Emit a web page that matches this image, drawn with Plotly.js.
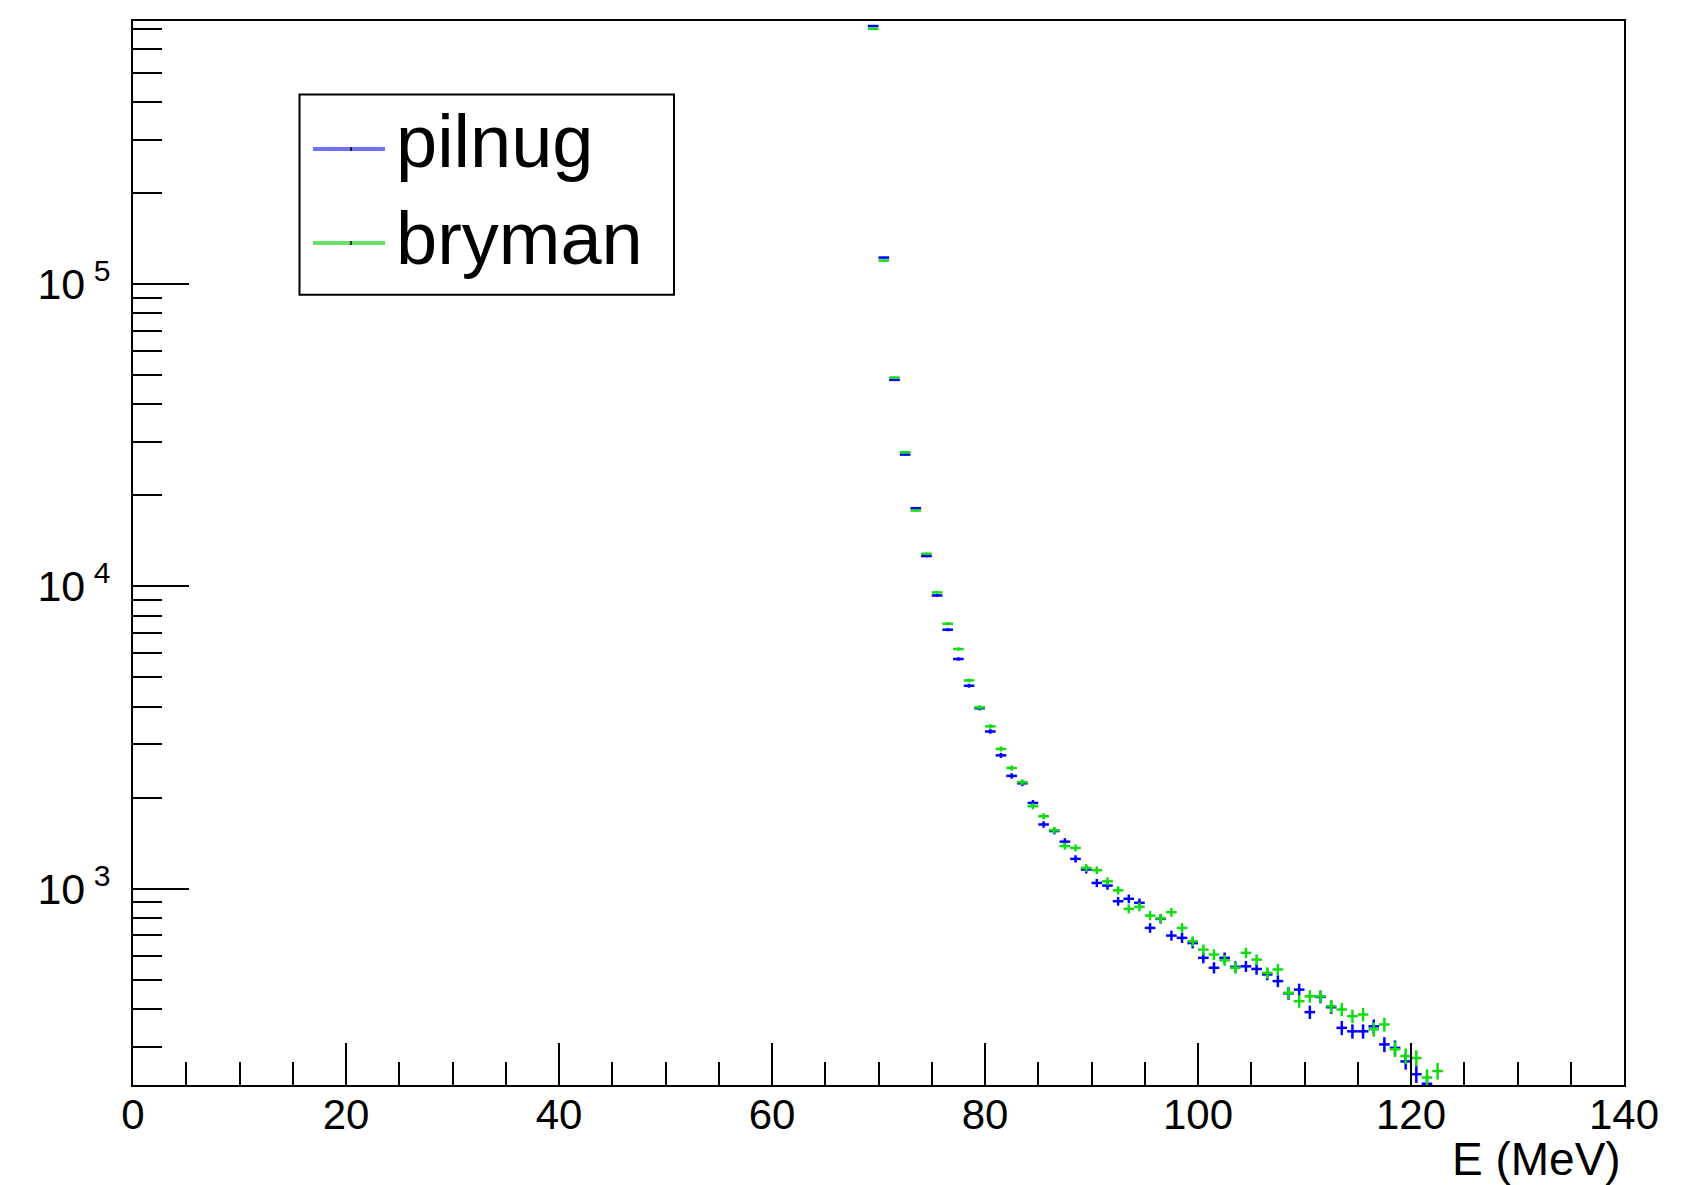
<!DOCTYPE html>
<html>
<head>
<meta charset="utf-8">
<script src="https://cdn.plot.ly/plotly-3.0.1.min.js"></script>
<style>html,body{margin:0;padding:0;background:#fff;}#chart{width:1706px;height:1185px;}</style>
</head>
<body>
<div id="chart"></div>
<script>
// Bin centres (MeV)
const binCenters = [69.5,70.5,71.5,72.5,73.5,74.5,75.5,76.5,77.5,78.5,79.5,80.5,81.5,82.5,83.5,84.5,85.5,86.5,87.5,88.5,89.5,90.5,91.5,92.5,93.5,94.5,95.5,96.5,97.5,98.5,99.5,100.5,101.5,102.5,103.5,104.5,105.5,106.5,107.5,108.5,109.5,110.5,111.5,112.5,113.5,114.5,115.5,116.5,117.5,118.5,119.5,120.5,121.5,122.5];

// Series: pilnug (blue)
const pilnug = [715000,122500,48250,27300,18150,12600,9330,7190,5750,4690,3950,3310,2760,2360,2230,1920,1630,1550,1430,1254,1156,1044,1023,908,925,897,741,794,699,687,660,590,547,590,551,553,542,520,494,450,463,390,438,405,346,337,337,350,305,297,268,243,226,null];

// Series: bryman (green)
const bryman = [700000,119700,49100,27800,17830,12820,9550,7525,6205,4885,3978,3442,2898,2507,2250,1872,1735,1560,1382,1363,1171,1150,1057,987,857,870,814,797,835,741,669,628,605,579,547,613,582,526,540,452,424,440,440,408,398,378,383,342,355,294,279,275,237,249];

const seriesNames = ['pilnug', 'bryman'];
const xTitle = 'E (MeV)';
const binHalfWidth = 0.5;

// y axis tick labels
const yTickVals = [1000, 10000, 100000];
const yTickText = ['10<sup> 3</sup>', '10<sup> 4</sup>', '10<sup> 5</sup>'];

// minor log ticks (2..9 per decade)
const minorY = [];
for (let d = 2; d <= 5; d++) {
  for (let m = 2; m <= 9; m++) minorY.push(m * Math.pow(10, d));
}

const poisson = arr => arr.map(v => v == null ? null : Math.sqrt(v));

function makeTrace(name, y, color) {
  return {
    type: 'scatter', mode: 'markers', name: name,
    x: binCenters, y: y,
    marker: {size: 2, color: color},
    error_x: {type: 'constant', value: binHalfWidth, thickness: 2.5, width: 0, color: color},
    error_y: {type: 'data', array: poisson(y), thickness: 2.5, width: 0, color: color},
    hoverinfo: 'x+y+name'
  };
}

const blue = '#0000ff';
const green = '#11dd11';
const data = [makeTrace(seriesNames[0], pilnug, blue), makeTrace(seriesNames[1], bryman, green)];

// pixel -> paper helpers (plot area: left 133, right 1624, top 21, bottom 1085.5)
const L = 133, R = 1624, T = 21, B = 1085.5;
const px = x => (x - L) / (R - L);
const py = y => (B - y) / (B - T);

const fontFam = '"Liberation Sans", Arial, Helvetica, sans-serif';

const shapes = [
  {type: 'rect', xref: 'paper', yref: 'paper', x0: px(299.5), x1: px(674), y0: py(295), y1: py(94.5),
   line: {color: 'black', width: 2}, fillcolor: 'white', layer: 'above'},
  {type: 'line', xref: 'paper', yref: 'paper', x0: px(313), x1: px(385), y0: py(149), y1: py(149),
   line: {color: '#7070ff', width: 4}, layer: 'above'},
  {type: 'line', xref: 'paper', yref: 'paper', x0: px(351), x1: px(351), y0: py(147), y1: py(151),
   line: {color: 'black', width: 1.5}, layer: 'above'},
  {type: 'line', xref: 'paper', yref: 'paper', x0: px(313), x1: px(385), y0: py(243), y1: py(243),
   line: {color: '#66e066', width: 4}, layer: 'above'},
  {type: 'line', xref: 'paper', yref: 'paper', x0: px(351), x1: px(351), y0: py(241), y1: py(245),
   line: {color: 'black', width: 1.5}, layer: 'above'}
];

const annotations = [
  {text: seriesNames[0], xref: 'paper', yref: 'paper', x: px(394), y: py(142), xanchor: 'left', yanchor: 'middle',
   showarrow: false, font: {size: 74, family: fontFam, color: 'black'}},
  {text: seriesNames[1], xref: 'paper', yref: 'paper', x: px(394), y: py(239), xanchor: 'left', yanchor: 'middle',
   showarrow: false, font: {size: 74, family: fontFam, color: 'black'}},
  {text: xTitle, xref: 'paper', yref: 'paper', x: px(1623), y: py(1160), xanchor: 'right', yanchor: 'middle',
   showarrow: false, font: {size: 46, family: fontFam, color: 'black'}}
];

const layout = {
  width: 1706, height: 1185,
  margin: {l: 133, r: 82, t: 21, b: 99.5, pad: 0},
  paper_bgcolor: 'white', plot_bgcolor: 'white',
  showlegend: false,
  font: {family: fontFam, color: 'black'},
  xaxis: {
    range: [0, 140], tick0: 0, dtick: 20,
    ticks: 'inside', ticklen: 42, tickwidth: 2, tickcolor: 'black',
    showline: true, linewidth: 2, linecolor: 'black', mirror: true,
    showgrid: false, zeroline: false,
    tickfont: {size: 42, family: fontFam, color: 'black'},
    ticklabelstandoff: -8,
    minor: {tick0: 0, dtick: 5, ticks: 'inside', ticklen: 23, tickwidth: 2, tickcolor: 'black', showgrid: false}
  },
  yaxis: {
    type: 'log', range: [2.35, 5.871],
    tickmode: 'array', tickvals: yTickVals, ticktext: yTickText,
    ticks: 'inside', ticklen: 56, tickwidth: 2, tickcolor: 'black',
    showline: true, linewidth: 2, linecolor: 'black', mirror: true,
    showgrid: false, zeroline: false,
    tickfont: {size: 43, family: fontFam, color: 'black'},
    ticklabelstandoff: 12,
    minor: {tickmode: 'array', tickvals: minorY, ticks: 'inside', ticklen: 29, tickwidth: 2, tickcolor: 'black', showgrid: false}
  },
  shapes: shapes,
  annotations: annotations
};

Plotly.newPlot('chart', data, layout, {displayModeBar: false, staticPlot: true});
</script>
</body>
</html>
